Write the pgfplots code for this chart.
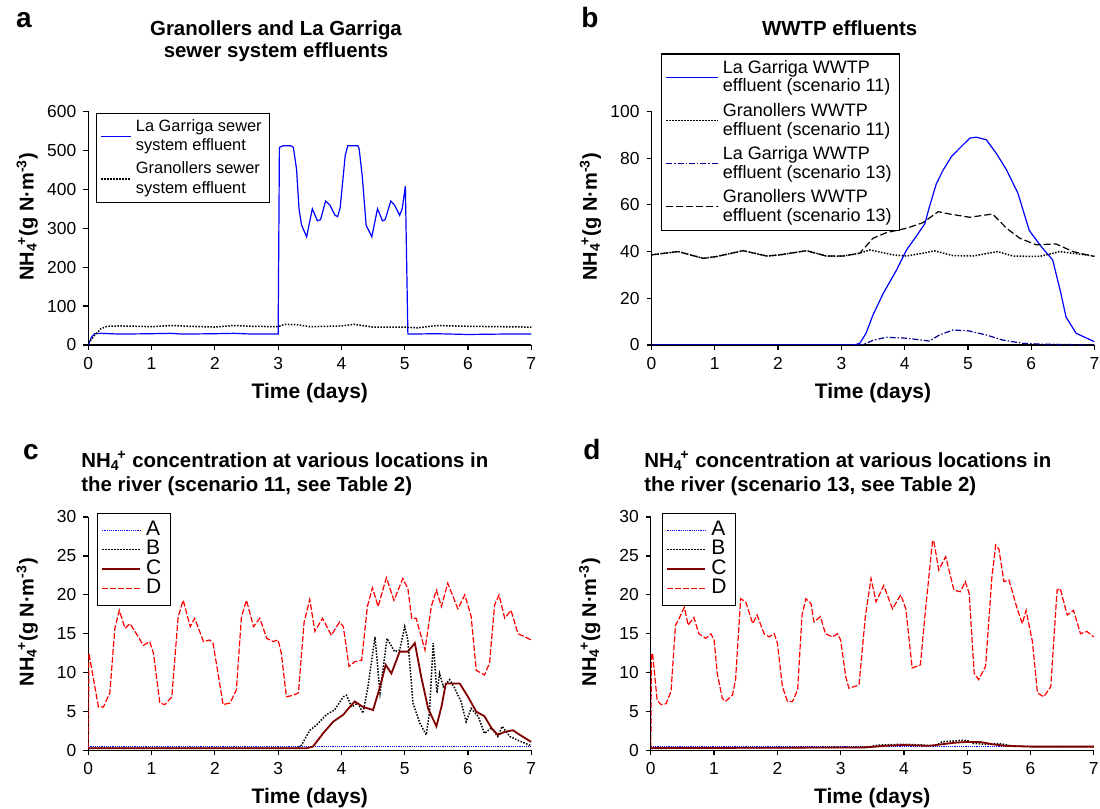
\documentclass[border=0pt]{standalone}
\usepackage{fontspec}
\setmainfont{Liberation Sans}
\usepackage{pgfplots}
\pgfplotsset{compat=1.18}
\definecolor{darkred}{HTML}{800000}
\definecolor{navyblue}{HTML}{000090}

\tikzset{
  dots/.style={black, line width=0.75pt, dash pattern=on 0.75pt off 0.75pt},
  reddash/.style={red, line width=0.6pt, dash pattern=on 3pt off 1pt},
  bluedot/.style={blue, line width=0.6pt, dash pattern=on 0.6pt off 0.5pt},
  dashdot/.style={navyblue, line width=0.6pt, dash pattern=on 3pt off 1pt on 0.7pt off 1pt},
  blackdash/.style={black, line width=0.6pt, dash pattern=on 3.5pt off 1.5pt},
}
\newcommand{\nhf}{NH\textsubscript{4}\kern-0.12em\textsuperscript{+}}

\pgfplotsset{
  panel/.style={
    scale only axis, width=221.5pt, height=116.75pt,
    axis x line*=bottom, axis y line*=left,
    axis line style={-, line width=0.6pt},
    xmin=0, xmax=7, xtick={0,...,7}, enlargelimits=false,
    tick align=outside, major tick length=2.5pt,
    tick style={black, line width=0.6pt},
    tick label style={font=\fontsize{8.7}{10}\selectfont},
    /pgf/number format/assume math mode=true,
    xlabel={Time (days)},
    xlabel style={font=\bfseries\fontsize{10.5}{12}\selectfont,
      at={(axis description cs:0.5,-0.205)}, anchor=center},
    ylabel={\nhf(g N·m\textsuperscript{-3})},
    ylabel style={font=\bfseries\fontsize{10}{12}\selectfont,
      at={(axis description cs:-0.138,0.55)}, anchor=center},
    legend cell align=left,
    legend style={draw=black, line width=0.6pt, cells={align=left},
      inner xsep=2pt, inner ysep=1pt, row sep=0pt},
  },
  letters/.style={legend style={font=\fontsize{10.5}{10}\selectfont,
      nodes={inner ysep=0pt, inner xsep=2.5pt, text height=7.4pt, text depth=2.35pt},
      inner ysep=3.5pt},
    legend image code/.code={\draw[##1] (0pt,0pt) -- (19pt,0pt);}},
}

\begin{document}
\begin{tikzpicture}
\path[use as bounding box] (0,0) rectangle (550pt,404.5pt);

% ---------- a ----------
\begin{axis}[panel, at={(44.15pt,232pt)}, anchor=south west,
  ymin=0, ymax=600, ytick={0,100,...,600},
  legend style={at={(axis description cs:0.017,0.995)}, anchor=north west,
    font=\fontsize{8.2}{9.8}\selectfont},
  legend image code/.code={\draw[#1] (0pt,0pt) -- (15pt,0pt);}]
\addplot[blue, line width=0.6pt] coordinates {
 (0,0) (0.05,20) (0.1,29) (0.2,30) (0.5,28) (1,29) (1.3,30) (1.5,28) (2,29)
 (2.3,30) (2.6,28) (3.0,28) (3.02,508) (3.08,512) (3.2,512) (3.24,508)
 (3.29,453) (3.33,350) (3.37,308) (3.45,278) (3.54,350) (3.62,319) (3.67,322)
 (3.75,370) (3.82,359) (3.9,333) (3.94,330) (3.98,353) (4.06,487) (4.1,512)
 (4.26,512) (4.28,504) (4.33,432) (4.39,308) (4.48,278) (4.57,350) (4.65,319)
 (4.69,322) (4.78,370) (4.84,359) (4.92,333) (4.96,350) (5.01,408) (5.05,28)
 (5.5,29) (6,27) (6.5,28) (7,28)};
\addlegendentry{La Garriga sewer\\system effluent}
\addplot[dots] coordinates {
 (0,5) (0.1,25) (0.2,42) (0.3,48) (0.5,49) (0.8,48) (1.0,47) (1.3,50) (1.6,48)
 (2.0,46) (2.3,50) (2.6,48) (3.0,47) (3.1,53) (3.3,52) (3.5,47) (4.0,49)
 (4.2,53) (4.5,46) (5.0,46) (5.2,44) (5.5,50) (6.0,48) (6.5,47) (7,46)};
\addlegendentry{Granollers sewer\\system effluent}
\end{axis}

% ---------- b ----------
\begin{axis}[panel, at={(325.75pt,232pt)}, anchor=south west,
  ymin=0, ymax=100, ytick={0,20,...,100},
  legend style={at={(axis description cs:0.021,1.249)}, anchor=north west,
    font=\fontsize{9}{9.5}\selectfont},
  legend image code/.code={\draw[#1] (0pt,0pt) -- (26pt,0pt);}]
\addplot[blue, line width=0.6pt] coordinates {
 (0,0) (3.2,0) (3.29,0.7) (3.39,5) (3.5,12.9) (3.66,22) (3.87,32) (4.03,40.7)
 (4.18,46.4) (4.32,52) (4.39,59) (4.5,69) (4.61,75) (4.74,80.7) (4.87,84.3)
 (5.03,88.6) (5.13,89) (5.29,87.9) (5.45,82) (5.61,75) (5.79,65) (5.97,49)
 (6.18,41.4) (6.34,36.4) (6.47,22) (6.55,12) (6.71,5) (7,1.4)};
\addlegendentry{La Garriga WWTP\\effluent (scenario 11)}
\addplot[dots] coordinates {
 (0,38.6) (0.42,40) (0.82,37.1) (1.03,37.9) (1.45,40.4) (1.82,38.1) (2.03,38.6)
 (2.45,40.4) (2.76,38.1) (3.03,38.1) (3.29,39.3) (3.45,40.7) (3.82,38.6)
 (4.03,38.1) (4.29,39.3) (4.47,40.3) (4.76,38.3) (5.08,38.1) (5.47,40)
 (5.71,38.1) (6.13,37.9) (6.45,40) (7,38.1)};
\addlegendentry{Granollers WWTP\\effluent (scenario 11)}
\addplot[dashdot] coordinates {
 (0,0) (3.3,0) (3.39,0.7) (3.5,2) (3.71,3.3) (4.03,2.9) (4.39,1.7) (4.55,4.3)
 (4.76,6.4) (5,6.1) (5.29,4.3) (5.55,2.1) (5.87,0.7) (6.13,0.4) (7,0)};
\addlegendentry{La Garriga WWTP\\effluent (scenario 13)}
\addplot[blackdash] coordinates {
 (0,38.6) (0.42,40) (0.82,37.1) (1.03,37.9) (1.45,40.4) (1.82,38.1) (2.03,38.6)
 (2.45,40.4) (2.76,38.1) (3.03,38.1) (3.29,39.3) (3.5,45.7) (3.71,48.1)
 (4.03,50) (4.29,52.4) (4.53,57.1) (4.71,56.1) (5.03,54.7) (5.39,56.1)
 (5.61,50) (5.82,45.7) (6.08,42.9) (6.39,43.3) (6.66,40) (7,37.9)};
\addlegendentry{Granollers WWTP\\effluent (scenario 13)}
\end{axis}

% ---------- c ----------
\begin{axis}[panel, letters, at={(44.15pt,29.25pt)}, anchor=south west,
  ymin=0, ymax=30, ytick={0,5,...,30},
  legend style={at={(axis description cs:0.019,1.018)}, anchor=north west}]
\addplot[bluedot] coordinates {(0,0.5) (7,0.5)};
\addlegendentry{A}
\addplot[dots] coordinates {
 (0,0.3) (3.3,0.3) (3.37,0.7) (3.5,2.6) (3.61,3.3) (3.76,4.6) (3.89,5.2)
 (4.03,6.9) (4.08,7.1) (4.16,5.6) (4.26,6.1) (4.34,4.8) (4.42,8.2) (4.53,14.6)
 (4.61,7.4) (4.72,14.4) (4.84,12.7) (4.92,12.9) (5,15.9) (5.05,14.2) (5.13,6.1)
 (5.24,3.5) (5.34,2) (5.39,4.8) (5.45,13.8) (5.51,7.4) (5.55,9.9) (5.61,8.2)
 (5.71,9.1) (5.79,8) (5.89,6.3) (5.97,3.7) (6.05,5.4) (6.16,4.4) (6.26,2.2)
 (6.37,2.9) (6.47,1.8) (6.54,3.1) (6.66,1.8) (6.82,1.2) (7,0.6)};
\addlegendentry{B}
\addplot[darkred, line width=0.9pt] coordinates {
 (0,0.3) (3.45,0.3) (3.55,0.5) (3.71,2.2) (3.87,3.7) (4.03,4.6) (4.11,5.4)
 (4.21,6.3) (4.34,5.6) (4.5,5.2) (4.61,8.2) (4.7,11) (4.79,9.9) (4.92,12.7)
 (5.05,12.7) (5.16,13.8) (5.26,9.5) (5.37,5.4) (5.5,3.1) (5.58,5.6) (5.65,8.6)
 (5.87,8.6) (6,6.9) (6.13,5) (6.26,4.4) (6.37,2.9) (6.47,2) (6.58,2.4)
 (6.71,2.6) (6.82,2) (7,1.1)};
\addlegendentry{C}
\addplot[reddash] coordinates {
 (0,0.3) (0.01,12.5) (0.16,5.6) (0.24,5.6) (0.34,7.4) (0.42,15.7) (0.49,18)
 (0.58,15.7) (0.66,16.3) (0.79,14.6) (0.87,13.5) (0.97,14) (1.03,12.5)
 (1.13,6.1) (1.21,5.9) (1.32,6.9) (1.42,17.2) (1.5,19.3) (1.61,15.9) (1.68,17)
 (1.82,14) (1.92,14.2) (1.97,13.8) (2.05,9.9) (2.13,5.9) (2.24,6.1) (2.34,7.8)
 (2.42,17.2) (2.5,19.3) (2.61,15.9) (2.71,17) (2.82,14.4) (2.92,14) (3,14.2)
 (3.05,12.5) (3.13,6.9) (3.24,7.1) (3.32,7.4) (3.41,16.5) (3.5,19.4)
 (3.58,15.3) (3.7,17) (3.84,14.8) (3.97,16.5) (4.03,15.9) (4.12,10.8)
 (4.21,11.4) (4.32,11.6) (4.41,18.5) (4.49,20.9) (4.58,18.5) (4.71,22.2)
 (4.83,19.3) (4.97,22.1) (5.05,20.8) (5.11,17) (5.18,17) (5.32,12.9)
 (5.42,18.5) (5.5,20.6) (5.58,18.5) (5.68,21.5) (5.84,18.2) (5.95,20)
 (6.05,17.2) (6.13,10.3) (6.26,9.7) (6.34,11.2) (6.42,18.7) (6.49,20)
 (6.58,17) (6.68,18) (6.79,15) (6.9,14.6) (7,14.2)};
\addlegendentry{D}
\end{axis}

% ---------- d ----------
\begin{axis}[panel, letters, at={(325.4pt,29.25pt)}, anchor=south west,
  ymin=0, ymax=30, ytick={0,5,...,30},
  legend style={at={(axis description cs:0.025,1.018)}, anchor=north west}]
\addplot[bluedot] coordinates {(0,0.5) (7,0.5)};
\addlegendentry{A}
\addplot[dots] coordinates {
 (0,0.3) (3.4,0.4) (3.6,0.7) (4.0,0.8) (4.3,0.7) (4.5,0.6) (4.6,1.1) (4.75,1.2)
 (4.9,1.3) (5.0,1.3) (5.1,0.9) (5.3,0.8) (5.5,0.9) (5.7,0.6) (6,0.5) (7,0.5)};
\addlegendentry{B}
\addplot[darkred, line width=0.9pt] coordinates {
 (0,0.3) (3.4,0.4) (3.7,0.6) (4.0,0.7) (4.4,0.6) (4.6,0.8) (4.8,1.0) (5.0,1.1)
 (5.2,1.1) (5.4,0.8) (5.6,0.6) (6,0.5) (7,0.5)};
\addlegendentry{C}
\addplot[reddash] coordinates {
 (0,0.3) (0.01,12.5) (0.03,12.3) (0.1,6.5) (0.16,5.9) (0.24,6) (0.32,7.6)
 (0.39,16.1) (0.45,17) (0.53,18.4) (0.59,16.1) (0.68,17.1) (0.76,15) (0.87,14.4)
 (0.95,15) (1,14.2) (1.05,9.9) (1.13,6.7) (1.18,6.3) (1.29,7.1) (1.34,9.1)
 (1.42,19.5) (1.5,19.1) (1.61,16.3) (1.68,17.4) (1.79,15) (1.87,14.6) (1.95,15)
 (2,13.8) (2.08,8.2) (2.16,6.3) (2.24,6.3) (2.32,7.8) (2.39,17.4) (2.45,19.5)
 (2.53,18.9) (2.58,16.5) (2.68,17.2) (2.76,15) (2.87,14.6) (2.95,15) (3,14.2)
 (3.08,9.5) (3.13,8) (3.29,8.4) (3.39,17.2) (3.48,22.1) (3.56,19.1) (3.68,21.2)
 (3.82,18.2) (3.95,20) (4.03,18.2) (4.13,10.6) (4.26,11) (4.34,18) (4.45,26.8)
 (4.47,27) (4.55,23.2) (4.66,24.9) (4.79,20.6) (4.89,20.4) (4.97,21.7)
 (5.03,20.2) (5.11,9.9) (5.18,9.1) (5.29,10.8) (5.39,22.3) (5.45,26.4)
 (5.5,25.9) (5.58,21.7) (5.66,21.9) (5.79,18.2) (5.87,16.3) (5.93,18) (6.03,14)
 (6.11,7.4) (6.21,6.9) (6.32,8.2) (6.42,20.6) (6.47,20.8) (6.58,17.4) (6.68,18)
 (6.79,15) (6.89,15.3) (7,14.6)};
\addlegendentry{D}
\end{axis}

% ---------- titles and panel letters ----------
\node[font=\bfseries\fontsize{10.2}{11.2}\selectfont, align=center, anchor=north, inner sep=0pt]
  at (138pt,394.5pt) {Granollers and La Garriga\\sewer system effluents};
\node[font=\bfseries\fontsize{10.2}{11.2}\selectfont, anchor=north, inner sep=0pt]
  at (419.85pt,394.5pt) {WWTP effluents};
\node[font=\bfseries\fontsize{10.2}{12.25}\selectfont, align=left, anchor=north west, inner sep=0pt]
  at (40.5pt,179pt) {\nhf{} concentration at various locations in\\the river (scenario 11, see Table 2)};
\node[font=\bfseries\fontsize{10.2}{12.25}\selectfont, align=left, anchor=north west, inner sep=0pt]
  at (322pt,179pt) {\nhf{} concentration at various locations in\\the river (scenario 13, see Table 2)};
\node[font=\bfseries\fontsize{14}{15}\selectfont, anchor=base, inner sep=0pt] at (12pt,390.5pt) {a};
\node[font=\bfseries\fontsize{14}{15}\selectfont, anchor=base, inner sep=0pt] at (295pt,390.5pt) {b};
\node[font=\bfseries\fontsize{14}{15}\selectfont, anchor=base, inner sep=0pt] at (15.5pt,174.5pt) {c};
\node[font=\bfseries\fontsize{14}{15}\selectfont, anchor=base, inner sep=0pt] at (296pt,174.5pt) {d};
\end{tikzpicture}
\end{document}
